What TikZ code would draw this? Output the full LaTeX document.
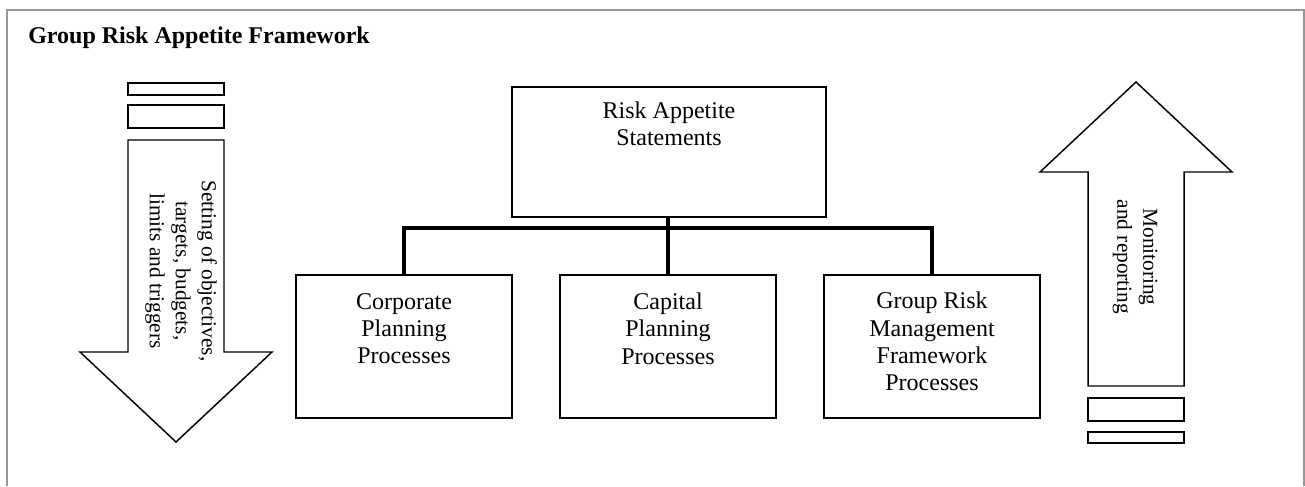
\documentclass[tikz,border=0pt]{standalone}
\usepackage{fontspec}
\setmainfont{Liberation Serif}
\definecolor{framegray}{RGB}{150,150,150}
\begin{document}
\begin{tikzpicture}[x=0.75pt,y=-0.75pt,
  boxstyle/.style={draw=black, line width=1.1pt, minimum width=162pt, minimum height=107.25pt, inner sep=0pt},
  boxtext/.style={align=center, inner sep=0pt, font=\fontsize{18}{20.5}\selectfont},
  arrowtext/.style={align=center, inner sep=0pt, rotate=-90, font=\fontsize{16}{19.5}\selectfont},
  conn/.style={line width=3.6pt},
  outline/.style={draw=black, line width=1.1pt, line join=miter}]
\useasboundingbox (0,0) rectangle (1305,486);
% frame
\draw[framegray, line width=1.6pt] (7,486) -- (7,10) -- (1304,10) -- (1304,486);
% title
\node[anchor=base west, inner sep=0pt, font=\fontsize{18}{20}\selectfont\bfseries] (title) at (28,43) {Group Risk Appetite Framework};
% boxes
\node[boxstyle, minimum width=235.5pt, minimum height=97.5pt] (ra) at (669,152) {};
\node[boxtext] (ratext) at (669,123.5) {Risk Appetite\\Statements};
\node[boxstyle] (b1) at (404,346.5) {};
\node[boxstyle] (b2) at (668,346.5) {};
\node[boxstyle] (b3) at (932,346.5) {};
\node[boxtext] (b1text) at (404,328.5) {Corporate\\Planning\\Processes};
\node[boxtext] (b2text) at (668,328.5) {Capital\\Planning\\Processes};
\node[boxtext] (b3text) at (932,341.5) {Group Risk\\Management\\Framework\\Processes};
% connectors
\coordinate (bar) at (668,228);
\draw[conn] (ra.south -| bar) -- (bar);
\draw[conn] (b1.north) -- (b1.north |- bar) -- (b3.north |- bar) -- (b3.north);
\draw[conn] (b2.north) -- (b2.north |- bar);
% left down arrow
\draw[outline] (128,83) rectangle (224,95);
\draw[outline] (128,105) rectangle (224,128);
\draw[outline] (128,140) -- (224,140) -- (224,352) -- (272,352) -- (176,442) -- (80,352) -- (128,352) -- cycle;
\node[arrowtext] (downtext) at (181,271) {Setting of objectives,\\targets, budgets,\\limits and triggers};
% right up arrow
\draw[outline] (1088,386) -- (1184,386) -- (1184,172) -- (1232,172) -- (1136,82) -- (1040,172) -- (1088,172) -- cycle;
\draw[outline] (1088,398) rectangle (1184,421);
\draw[outline] (1088,432) rectangle (1184,443);
\node[arrowtext] (uptext) at (1135,257) {Monitoring\\and reporting};
\end{tikzpicture}
\end{document}
